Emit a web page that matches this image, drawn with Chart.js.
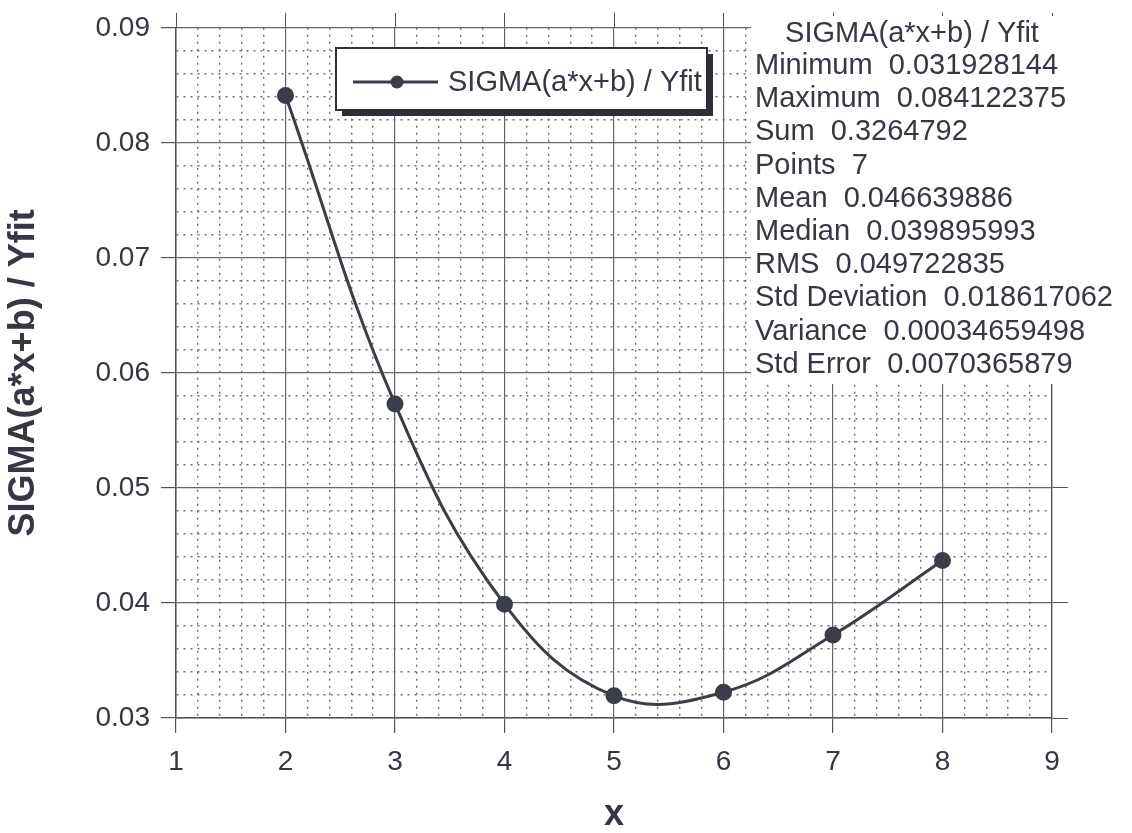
<!DOCTYPE html>
<html>
<head>
<meta charset="utf-8">
<script src="https://cdn.jsdelivr.net/npm/chart.js@4.4.1/dist/chart.umd.min.js"></script>
<style>
    html, body { margin: 0; padding: 0; background: #fff; }
</style>
</head>
<body>
<canvas id="sigmaChart" width="1132" height="833"></canvas>
<script>
const xValues = [2, 3, 4, 5, 6, 7, 8];
const sigmaValues = [0.084122375, 0.0573, 0.039895993, 0.031928144, 0.03224, 0.03722, 0.0437];
const xRange = [1, 9];
const yRange = [0.03, 0.09];
const seriesName = 'SIGMA(a*x+b) / Yfit';
const statNames = ['Minimum', 'Maximum', 'Sum', 'Points', 'Mean', 'Median', 'RMS', 'Std Deviation', 'Variance', 'Std Error'];
const statValues = ['0.031928144', '0.084122375', '0.3264792', '7', '0.046639886', '0.039895993', '0.049722835', '0.018617062', '0.00034659498', '0.0070365879'];

const FONT = "'Liberation Sans', Arial, sans-serif";
const textColor = '#363645';
const lineColor = '#3b3d48';

function isMajorX(v) { return Math.abs(v - Math.round(v)) < 1e-6; }
function isMajorY(v) { return Math.abs(v * 100 - Math.round(v * 100)) < 1e-6; }

// minor grid lines dotted, major ones solid
function gridStyle(isMajor) {
    return {
        color: c => (c.tick && isMajor(c.tick.value)) ? '#66666c' : '#6e6e6e',
        lineWidth: c => (c.tick && isMajor(c.tick.value)) ? 1.2 : 1.4,
        tickLength: 15,
        tickColor: c => (c.tick && isMajor(c.tick.value)) ? '#555' : 'rgba(0,0,0,0)'
    };
}
function borderStyle(isMajor) {
    return {
        display: true,
        color: '#555',
        width: 1.5,
        dash: c => (c.tick && !isMajor(c.tick.value)) ? [2, 5] : []
    };
}

const panelPlugin = {
    id: 'panels',
    afterDraw(chart) {
        const ctx = chart.ctx;
        ctx.save();

        // statistics block
        ctx.fillStyle = '#fff';
        ctx.fillRect(751, 16, 381, 368);
        ctx.fillStyle = textColor;
        ctx.font = '29px ' + FONT;
        ctx.textBaseline = 'middle';
        ctx.textAlign = 'center';
        ctx.fillText(seriesName, 912, 34);
        ctx.textAlign = 'left';
        statNames.forEach((name, i) => {
            ctx.fillText(name + '  ' + statValues[i], 755, 66 + i * 33.2);
        });

        // legend box
        ctx.fillStyle = '#2e2e36';
        ctx.fillRect(342, 54, 371, 62);
        ctx.fillStyle = '#fff';
        ctx.fillRect(336, 48, 371, 62);
        ctx.strokeStyle = '#2e2e36';
        ctx.lineWidth = 2;
        ctx.strokeRect(336, 48, 371, 62);
        ctx.strokeStyle = lineColor;
        ctx.lineWidth = 3;
        ctx.beginPath();
        ctx.moveTo(353, 82);
        ctx.lineTo(438, 82);
        ctx.stroke();
        ctx.fillStyle = lineColor;
        ctx.beginPath();
        ctx.arc(397, 82, 6.5, 0, Math.PI * 2);
        ctx.fill();
        ctx.fillStyle = textColor;
        ctx.font = '29px ' + FONT;
        ctx.fillText(seriesName, 448, 83);

        ctx.restore();
    }
};

const ctx = document.getElementById('sigmaChart').getContext('2d');
const sigmaChart = new Chart(ctx, {
    type: 'line',
    data: {
        datasets: [{
            label: seriesName,
            data: xValues.map((x, i) => ({ x: x, y: sigmaValues[i] })),
            borderColor: lineColor,
            borderWidth: 3,
            backgroundColor: lineColor,
            pointRadius: 7,
            pointBackgroundColor: lineColor,
            pointBorderColor: lineColor,
            tension: 0.4,
            fill: false
        }]
    },
    options: {
        responsive: false,
        animation: false,
        devicePixelRatio: 1,
        layout: { padding: 0 },
        plugins: {
            legend: { display: false },
            tooltip: { enabled: false }
        },
        scales: {
            x: {
                type: 'linear',
                position: 'bottom',
                min: xRange[0],
                max: xRange[1],
                ticks: {
                    stepSize: 0.2,
                    autoSkip: false,
                    maxRotation: 0,
                    padding: 12,
                    color: textColor,
                    font: { family: FONT, size: 28 },
                    callback: v => isMajorX(v) ? String(Math.round(v)) : ''
                },
                grid: gridStyle(isMajorX),
                border: borderStyle(isMajorX),
                title: {
                    display: true,
                    text: 'x',
                    color: textColor,
                    font: { family: FONT, size: 36, weight: 'bold', lineHeight: 1 },
                    padding: { top: 0, bottom: 0 }
                },
                afterFit: s => { s.height = 115; }
            },
            x2: {
                type: 'linear',
                axis: 'x',
                position: 'top',
                min: xRange[0],
                max: xRange[1],
                ticks: { stepSize: 1, display: false },
                grid: { drawOnChartArea: false, tickLength: 15, tickColor: '#555', color: '#555' },
                border: { display: false },
                afterFit: s => { s.height = 21; }
            },
            y: {
                type: 'linear',
                position: 'left',
                min: yRange[0],
                max: yRange[1],
                ticks: {
                    stepSize: 0.002,
                    autoSkip: false,
                    padding: 11,
                    color: textColor,
                    font: { family: FONT, size: 28 },
                    callback: v => isMajorY(v) ? v.toFixed(2) : ''
                },
                grid: gridStyle(isMajorY),
                border: borderStyle(isMajorY),
                title: {
                    display: true,
                    text: seriesName,
                    color: textColor,
                    font: { family: FONT, size: 36, weight: 'bold', lineHeight: 1 },
                    padding: { top: 6, bottom: 0 }
                },
                afterFit: s => { s.width = 176; }
            },
            y2: {
                type: 'linear',
                axis: 'y',
                position: 'right',
                min: yRange[0],
                max: yRange[1],
                ticks: { stepSize: 0.01, display: false },
                grid: { drawOnChartArea: false, tickLength: 16, tickColor: '#555', color: '#555' },
                border: { display: true, color: '#555', width: 1.3 },
                afterFit: s => { s.width = 80; }
            }
        }
    },
    plugins: [panelPlugin]
});
</script>
</body>
</html>
